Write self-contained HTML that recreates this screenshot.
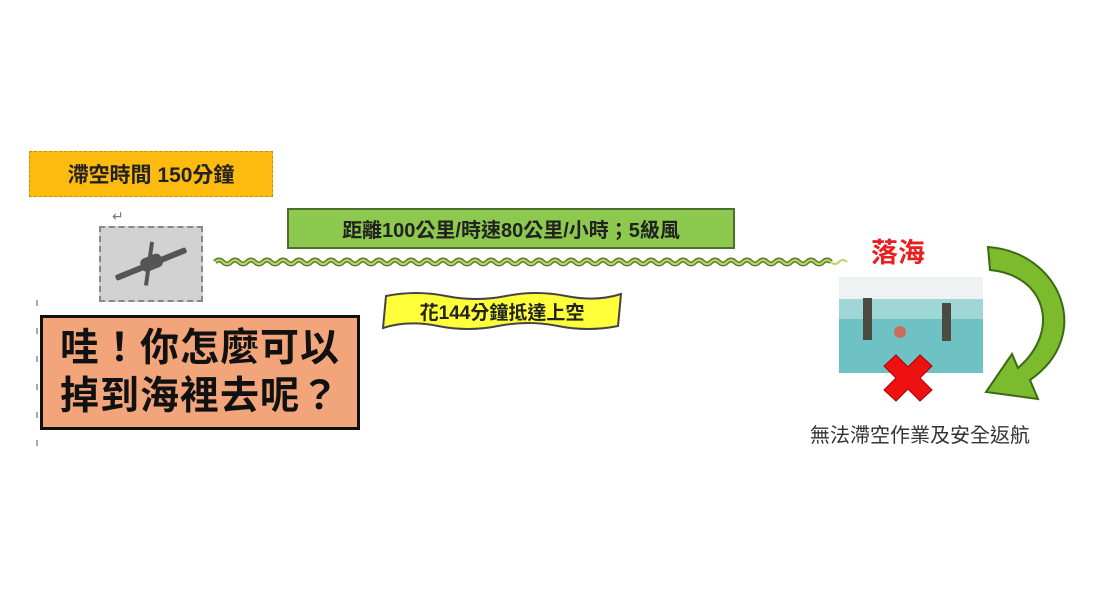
<!DOCTYPE html>
<html><head><meta charset="utf-8"><style>
body{margin:0;width:1118px;height:616px;background:#fff;position:relative;overflow:hidden;font-family:"Liberation Sans","Noto Sans CJK TC",sans-serif}
.a{position:absolute;box-sizing:border-box;display:flex;align-items:center;justify-content:center;white-space:nowrap}
</style></head><body>
<div class="a" style="left:29px;top:151px;width:244px;height:46px;background:#fdbb10;border:1.5px dashed #c8900a;font-size:21px;font-weight:bold;color:#222">滯空時間 150分鐘</div>
<div class="a" style="left:112px;top:208px;font-size:14px;color:#777">↵</div>
<div class="a" style="left:99px;top:226px;width:104px;height:76px;background:#d2d2d2;border:2px dashed #888"></div>
<svg style="position:absolute;left:0;top:0" width="1118" height="616">
<g transform="translate(151,264) rotate(-22)" fill="#555">
<rect x="-38" y="-3" width="76" height="6" rx="2"/>
<rect x="-10" y="-8" width="22" height="14" rx="5"/>
<rect x="-4" y="-22" width="4" height="44" transform="rotate(30)"/>
</g>
<path d="M215 262 q4 -4 8 0 t8 0 t8 0 t8 0 t8 0 t8 0 t8 0 t8 0 t8 0 t8 0 t8 0 t8 0 t8 0 t8 0 t8 0 t8 0 t8 0 t8 0 t8 0 t8 0 t8 0 t8 0 t8 0 t8 0 t8 0 t8 0 t8 0 t8 0 t8 0 t8 0 t8 0 t8 0 t8 0 t8 0 t8 0 t8 0 t8 0 t8 0 t8 0 t8 0 t8 0 t8 0 t8 0 t8 0 t8 0 t8 0 t8 0 t8 0 t8 0 t8 0 t8 0 t8 0 t8 0 t8 0 t8 0 t8 0 t8 0 t8 0 t8 0 t8 0 t8 0 t8 0 t8 0 t8 0 t8 0 t8 0 t8 0 t8 0 t8 0 t8 0 t8 0 t8 0 t8 0 t8 0 t8 0 t8 0 t8 0" fill="none" stroke="#5f7a2a" stroke-width="5"/>
<path d="M215 262 q4 -4 8 0 t8 0 t8 0 t8 0 t8 0 t8 0 t8 0 t8 0 t8 0 t8 0 t8 0 t8 0 t8 0 t8 0 t8 0 t8 0 t8 0 t8 0 t8 0 t8 0 t8 0 t8 0 t8 0 t8 0 t8 0 t8 0 t8 0 t8 0 t8 0 t8 0 t8 0 t8 0 t8 0 t8 0 t8 0 t8 0 t8 0 t8 0 t8 0 t8 0 t8 0 t8 0 t8 0 t8 0 t8 0 t8 0 t8 0 t8 0 t8 0 t8 0 t8 0 t8 0 t8 0 t8 0 t8 0 t8 0 t8 0 t8 0 t8 0 t8 0 t8 0 t8 0 t8 0 t8 0 t8 0 t8 0 t8 0 t8 0 t8 0 t8 0 t8 0 t8 0 t8 0 t8 0 t8 0 t8 0 t8 0 t8 0 t8 0" fill="none" stroke="#b5d86a" stroke-width="2"/>
<path d="M386 296 q30 -6 60 0 t60 0 t60 0 t55 -2 L618 326 q-30 6 -60 0 t-60 0 t-60 0 t-55 2 Z" fill="#ffff3a" stroke="#444" stroke-width="2"/>
<rect x="839" y="277" width="144" height="96" fill="#6fc2c4"/>
<rect x="839" y="277" width="144" height="22" fill="#eef2f3"/>
<rect x="839" y="299" width="144" height="20" fill="#9fd6d6"/>
<rect x="863" y="298" width="9" height="42" fill="#4b4a3e"/>
<rect x="942" y="303" width="9" height="38" fill="#4b4a3e"/>
<circle cx="900" cy="332" r="6" fill="#c96e5e"/>
<path d="M896 355 L908 367 L920 355 L932 366 L920 378 L932 390 L920 401 L908 389 L896 401 L884 390 L896 378 L884 366 Z" fill="#ee1111" stroke="#a00" stroke-width="1"/>
<path d="M988 247 C1060 252 1095 335 1030 380 L1038 399 L986 392 L1012 354 L1018 368 C1062 330 1045 275 990 270 Z" fill="#7cbb2e" stroke="#3c6a12" stroke-width="2"/>
<line x1="37" y1="300" x2="37" y2="450" stroke="#555" stroke-width="1" stroke-dasharray="6 22"/>
</svg>
<div class="a" style="left:287px;top:208px;width:448px;height:41px;background:#8dc94f;border:2px solid #4d6f2d;font-size:20px;font-weight:bold;color:#222">距離100公里/時速80公里/小時；5級風</div>
<div class="a" style="left:386px;top:293px;width:232px;height:36px;font-size:19px;font-weight:bold;color:#222">花144分鐘抵達上空</div>
<div class="a" style="left:40px;top:315px;width:320px;height:115px;background:#f2a57a;border:3px solid #111;font-size:39px;font-weight:bold;color:#111;line-height:48px;text-align:center;white-space:normal;padding:0 4px;letter-spacing:1px">哇！你怎麼可以<br>掉到海裡去呢？</div>
<div class="a" style="left:850px;top:232px;width:96px;height:36px;font-size:27px;font-weight:bold;color:#e82020">落海</div>
<div class="a" style="left:780px;top:420px;width:280px;height:26px;font-size:20px;color:#333">無法滯空作業及安全返航</div>
</body></html>
